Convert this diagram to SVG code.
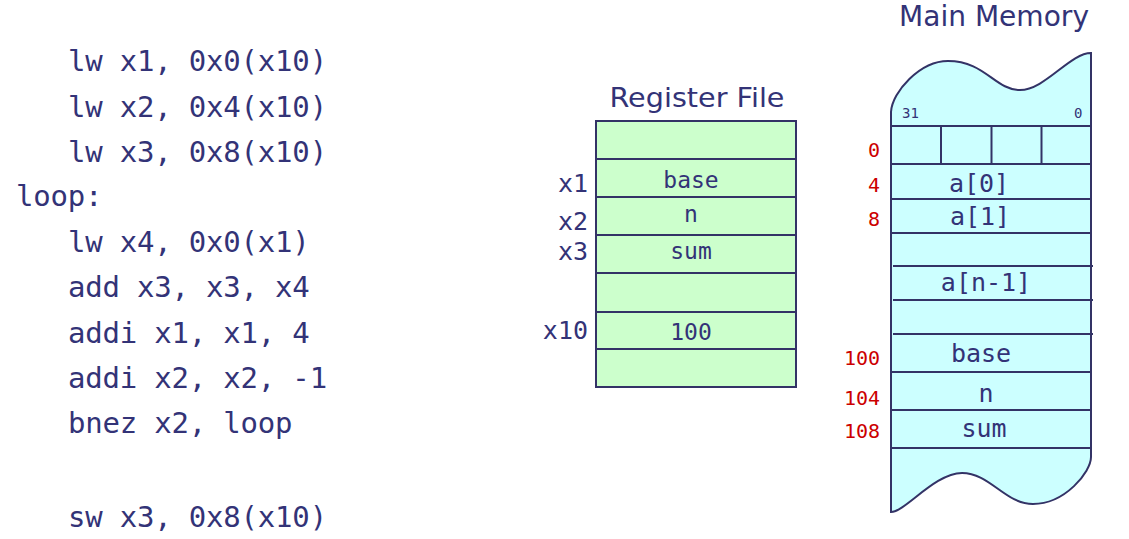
<svg xmlns="http://www.w3.org/2000/svg" width="1129" height="539" viewBox="0 0 1129 539">
<style>
.code{font-family:"DejaVu Sans Mono","Liberation Mono",monospace;font-size:29px;fill:#333377;letter-spacing:-0.2px}
.title{font-family:"DejaVu Sans","Liberation Sans",sans-serif;fill:#333377;text-anchor:middle}
.reg{fill:#ccffcc;stroke:#333366;stroke-width:2}
.ln{stroke:#333366;stroke-width:2;fill:none}
.cell{font-family:"DejaVu Sans Mono","Liberation Mono",monospace;font-size:23px;fill:#333377;text-anchor:middle}
.rl{font-family:"DejaVu Sans Mono","Liberation Mono",monospace;font-size:25px;fill:#333377;text-anchor:end}
.mt{font-family:"DejaVu Sans Mono","Liberation Mono",monospace;font-size:25px;fill:#333377;text-anchor:middle}
.addr{font-family:"DejaVu Sans Mono","Liberation Mono",monospace;font-size:20px;fill:#cc0000;text-anchor:end}
.bit{font-family:"DejaVu Sans Mono","Liberation Mono",monospace;font-size:14px;fill:#333377}
</style>
<g id="code">
<text class="code" x="68" y="71">lw x1, 0x0(x10)</text>
<text class="code" x="68" y="117">lw x2, 0x4(x10)</text>
<text class="code" x="68" y="162">lw x3, 0x8(x10)</text>
<text class="code" x="16" y="206">loop:</text>
<text class="code" x="68" y="252">lw x4, 0x0(x1)</text>
<text class="code" x="68" y="297">add x3, x3, x4</text>
<text class="code" x="68" y="343">addi x1, x1, 4</text>
<text class="code" x="68" y="388">addi x2, x2, -1</text>
<text class="code" x="68" y="433">bnez x2, loop</text>
<text class="code" x="68" y="527">sw x3, 0x8(x10)</text>
</g>
<g id="register-file">
<text class="title" x="697" y="107" font-size="27" textLength="175" lengthAdjust="spacingAndGlyphs">Register File</text>
<rect class="reg" x="596" y="121" width="200" height="266"/>
<line class="ln" x1="596" y1="159" x2="796" y2="159"/>
<line class="ln" x1="596" y1="197" x2="796" y2="197"/>
<line class="ln" x1="596" y1="235" x2="796" y2="235"/>
<line class="ln" x1="596" y1="273" x2="796" y2="273"/>
<line class="ln" x1="596" y1="312" x2="796" y2="312"/>
<line class="ln" x1="596" y1="349" x2="796" y2="349"/>
<text class="cell" x="691" y="188">base</text>
<text class="cell" x="691" y="222">n</text>
<text class="cell" x="691" y="259">sum</text>
<text class="cell" x="691" y="340">100</text>
<text class="rl" x="588" y="192">x1</text>
<text class="rl" x="588" y="230">x2</text>
<text class="rl" x="588" y="260">x3</text>
<text class="rl" x="588" y="339">x10</text>
</g>
<g id="main-memory">
<text class="title" x="994" y="26" font-size="28" textLength="190" lengthAdjust="spacingAndGlyphs">Main Memory</text>
<path d="M891,112 C892,92 920,61 948,61 C985,61 995,90 1020,90 C1045,90 1070,53 1091,53 L1091,457 C1091,472 1065,504 1033,504 C1005,504 990,473 962,473 C935,473 905,512 891,512 Z" fill="#ccffff" stroke="#333366" stroke-width="2"/>
<line class="ln" x1="891" y1="126" x2="1091" y2="126"/>
<line class="ln" x1="891" y1="164" x2="1091" y2="164"/>
<line class="ln" x1="891" y1="199" x2="1091" y2="199"/>
<line class="ln" x1="891" y1="233" x2="1091" y2="233"/>
<line class="ln" x1="893" y1="266" x2="1093" y2="266"/>
<line class="ln" x1="893" y1="300" x2="1093" y2="300"/>
<line class="ln" x1="893" y1="334" x2="1093" y2="334"/>
<line class="ln" x1="891" y1="372" x2="1091" y2="372"/>
<line class="ln" x1="891" y1="410" x2="1091" y2="410"/>
<line class="ln" x1="891" y1="448" x2="1091" y2="448"/>
<line class="ln" x1="941" y1="126" x2="941" y2="164"/>
<line class="ln" x1="991.5" y1="126" x2="991.5" y2="164"/>
<line class="ln" x1="1041.5" y1="126" x2="1041.5" y2="164"/>
<text class="bit" x="902" y="118">31</text>
<text class="bit" x="1074" y="118">0</text>
<text class="mt" x="979" y="192">a[0]</text>
<text class="mt" x="980" y="225">a[1]</text>
<text class="mt" x="986" y="291">a[n-1]</text>
<text class="mt" x="981" y="362">base</text>
<text class="mt" x="986" y="402">n</text>
<text class="mt" x="984" y="437">sum</text>
<text class="addr" x="880" y="157">0</text>
<text class="addr" x="880" y="192">4</text>
<text class="addr" x="880" y="226">8</text>
<text class="addr" x="880" y="365">100</text>
<text class="addr" x="880" y="405">104</text>
<text class="addr" x="880" y="438">108</text>
</g>
</svg>
